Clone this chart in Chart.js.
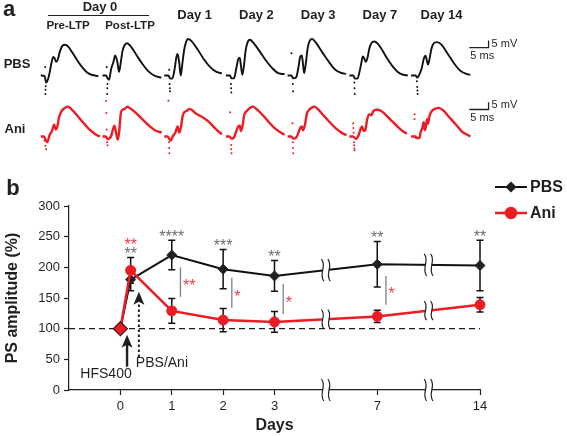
<!DOCTYPE html>
<html><head><meta charset="utf-8">
<script src="https://cdn.jsdelivr.net/npm/chart.js@4.4.1/dist/chart.umd.min.js"></script>
<style>
html,body{margin:0;padding:0;background:#fff;}
#wrap{position:relative;width:567px;height:436px;overflow:hidden;background:#fff;}
#ca{position:absolute;left:0;top:0;}
#cb{position:absolute;left:0;top:170px;}
</style></head><body>
<div id="wrap"><canvas id="ca" width="567" height="170"></canvas><canvas id="cb" width="567" height="266"></canvas></div>
<script>
// ---------- Panel b data ----------
const dayLabels = ['0', '1', '2', '3', '7', '14'];
const dayAxisPos = [0, 1, 2, 3, 5, 7];          // broken (compressed) day axis
const sampleDays = [0, 0.2, 1, 2, 3, 7, 14];
const pbsMean = [100, 180, 220, 197, 186, 205, 203];
const pbsSem  = [0, 18, 24, 32, 25, 37, 41];
const aniMean = [100, 195, 129, 114, 111, 120, 139];
const aniSem  = [0, 21, 20, 19, 17, 10, 12];
const pbsStars = ['', '**', '****', '***', '**', '**', '**'];
const aniStars = ['', '**', '', '', '', '', ''];
const compDays = [1, 2, 3, 7];
const compStars = ['**', '*', '*', '*'];
const compTop = [200, 183, 173, 186];
const compBottom = [152, 134, 124, 139];
const breakAxisPos = [4, 6];
const hfsArrow = [0.13, 38, 90];     // day, from %, to %
const drugArrow = [0.36, 54, 160];

// ---------- Panel a traces (ms, mV relative to trace start / baseline) ----------
const pbsPre = [[0,0],[1.0,-0.5],[1.4,-5],[1.9,-2.5],[2.3,2],[2.8,9],[3.25,13],[3.6,12],[4.0,9.5],[4.4,11],[5.0,17],[5.7,21],[6.3,21.5],[7.2,20],[8.2,16],[9.4,11],[10.7,6],[11.9,2.5],[13.2,0.5],[15.0,-0.5]];
const pbsPreDots = [[1.15,6],[1.2,-13],[1.25,-10],[1.3,-7.5]];
const pbsPost = [[0,0],[0.9,0],[1.35,-2],[1.7,-3],[2.25,4.5],[2.9,10],[3.3,14],[3.9,9],[4.3,2.5],[4.75,9],[5.2,17],[5.7,21],[6.4,22.5],[7.3,20.5],[8.8,14.5],[10.4,8],[12.1,2.5],[13.8,-0.5],[15.3,-1.5]];
const pbsPostDots = [[1.1,6],[1.2,-13],[1.25,-9],[1.3,-6]];
const pbsD1 = [[0,0],[1.1,0],[1.5,-2],[2.1,-2.2],[2.7,4.4],[3.2,13.3],[3.5,15],[3.9,9],[4.3,0],[4.75,9],[5.2,18],[5.7,23.5],[6.25,25.5],[7.1,24],[8.75,18],[10.4,11],[12.1,5.5],[13.6,2.5],[15,1.5]];
const pbsD1Dots = [[1.3,4],[1.4,-6],[1.45,-9],[1.5,-11]];
const pbsD2 = [[0,0],[1.1,0],[1.4,-2],[2.1,-2],[2.7,5],[3.2,11.5],[3.6,12.5],[3.9,7],[4.25,0.5],[4.7,7],[5.1,17],[5.6,23],[6.25,25],[7.1,23],[8.75,17],[10.4,10.5],[12.1,5],[13.75,1.5],[15.25,1]];
const pbsD2Dots = [[1.3,-6],[1.35,-9],[1.4,-12]];
const pbsD3 = [[0,0],[1.0,0],[1.4,-2],[2.25,-1.1],[2.8,5.6],[3.3,13.3],[3.7,14],[4.0,7.8],[4.3,1.6],[4.75,8.9],[5.2,18.9],[5.75,24.4],[6.4,25.5],[7.25,23.3],[8.9,16.7],[10.6,10],[12.25,4.4],[13.9,1.8],[15.2,1.1]];
const pbsD3Dots = [[1.0,15.5],[1.35,-6],[1.4,-11]];
const pbsD7 = [[0,0],[1.0,0],[1.4,-2],[2.1,-2.2],[2.7,3.3],[3.2,10],[3.5,13.3],[3.9,11.8],[4.3,9.5],[4.75,12.7],[5.2,18.9],[5.8,22.9],[6.5,23.8],[7.3,22.5],[8.5,18],[9.8,12],[11.2,6.5],[12.6,2.5],[14,0.5],[15.2,0]];
const pbsD7Dots = [[1.3,-5],[1.35,-9],[1.4,-13]];
const pbsD14 = [[0,0],[1.2,0],[1.6,-1.5],[2.1,0.4],[2.75,4.9],[3.3,11.6],[3.75,13.8],[4.2,9.3],[4.4,7.6],[4.8,11.6],[5.25,18.2],[5.8,22.2],[6.7,23.3],[7.9,21.6],[9.6,14.9],[11.25,8.2],[12.9,3.1],[14.6,0.9],[15.4,0.4]];
const pbsD14Dots = [[1.5,-4],[1.6,-8],[1.65,-10.5],[1.7,-13]];

const aniPre = [[0,0],[0.8,0],[1.2,-2],[1.7,-4],[2.3,1],[2.9,3.8],[3.5,8.2],[3.9,4.9],[4.3,7],[4.8,13.8],[5.4,17.8],[6.25,20],[7.1,20.9],[7.9,19.3],[9.2,15.6],[10.8,10.4],[12.5,5.3],[14.2,1.6],[15.4,0]];
const aniPreDots = [[1.0,-3],[1.2,-6.5],[1.4,-9]];
const aniPost = [[0,0],[0.8,0],[1.4,-1.8],[2.25,0.4],[3.1,7.6],[3.6,1.6],[4.0,-2.2],[4.4,4.9],[4.75,16],[5.25,18.7],[5.8,19.3],[6.4,20.9],[7.1,20],[8.75,16.4],[10.4,12],[12.1,7.6],[13.75,4.2],[15.4,2.7]];
const aniPostDots = [[0.9,24.9],[1.0,16.4],[1.1,4.9],[1.2,-4],[1.3,-6.2]];
const aniD1 = [[0,0],[0.9,0],[1.7,-2.9],[2.3,0.4],[2.9,2.7],[3.5,7.1],[3.9,2.7],[4.4,7.1],[4.75,13.8],[5.25,17.1],[5.8,17.8],[6.5,19.3],[7.1,18.7],[8.3,16],[10,13.5],[11.7,10],[13.3,5.5],[15,1.5]];
const aniD1Dots = [[1.1,25],[1.25,-4],[1.3,-8],[1.35,-11.8]];
const aniD2 = [[0,0],[0.9,0],[1.5,-1.5],[2.1,-0.7],[2.7,3.8],[3.2,7.1],[3.6,7.6],[3.9,3.8],[4.3,7.1],[4.75,14.9],[5.4,17.8],[6.25,20],[7.1,20.9],[7.9,19.3],[9.6,14.9],[11.25,9.8],[12.9,5.3],[14.6,2.2],[15.25,1.3]];
const aniD2Dots = [[1.1,17],[1.35,-6],[1.4,-9],[1.45,-11.8]];
const aniD3 = [[0,0],[0.9,0],[1.5,-1.5],[2.25,-0.7],[2.8,2.7],[3.3,6],[3.7,7.1],[4.0,4.4],[4.5,8.2],[5.0,16],[5.6,18.7],[6.4,20.4],[7.0,20.9],[7.8,19.3],[9.3,14.9],[11,9.8],[12.7,5.3],[14.3,2.2],[15.3,0.9]];
const aniD3Dots = [[1.25,9.3],[1.35,-4],[1.4,-8],[1.45,-11.8]];
const aniD7 = [[0,0],[0.9,0],[1.8,-1.8],[2.3,0.4],[2.9,4.9],[3.3,7.1],[3.75,3.8],[4.2,4.9],[4.6,11.6],[5.2,15.6],[5.7,14.9],[6.25,17.8],[7.1,18.7],[8.3,17.8],[9.5,15],[11,11],[12.5,7],[14,3.5],[15,2]];
const aniD7Dots = [[1.0,9.3],[1.05,6],[1.1,2.7],[1.2,-4],[1.25,-6.2],[1.3,-8.4],[1.35,-9.6]];
const aniD14 = [[0,0],[1.2,0],[1.3,-1],[2.2,-1],[2.5,3.3],[2.9,5.5],[3.3,10],[3.6,4.4],[3.9,7.8],[4.2,12.2],[4.4,8.9],[4.8,14.4],[5.4,17.8],[6.25,19.3],[7.25,20],[8.3,18.4],[10,13.3],[11.7,8.2],[13.3,3.3],[15,0.7],[15.4,0]];
const aniD14Dots = [[0.9,15.6],[0.9,12.2]];

const traceHeads = ['Day 1', 'Day 2', 'Day 3', 'Day 7', 'Day 14'];
const scaleBarMs = 5, scaleBarMv = 5;

// ---------- styling / layout ----------
const FONT = "'Liberation Sans', Arial, Helvetica, sans-serif";
const INK = '#231f20';
const RED = '#ec1c24';
const STAR_RED = '#ef3b42';
const STAR_GRAY = '#6d6e71';
Chart.defaults.font.family = FONT;
Chart.defaults.color = INK;

// ===== Panel a chart =====
const PX_PER_MS = 3.9;
const COL0 = 37.3 / PX_PER_MS, COLSTEP = 62.6 / PX_PER_MS;   // ms
const BASE_PBS = -50, BASE_ANI = -92.7;   // mV offsets of the two rows
const pbsT = [pbsPre, pbsPost, pbsD1, pbsD2, pbsD3, pbsD7, pbsD14];
const pbsD = [pbsPreDots, pbsPostDots, pbsD1Dots, pbsD2Dots, pbsD3Dots, pbsD7Dots, pbsD14Dots];
const aniT = [aniPre, aniPost, aniD1, aniD2, aniD3, aniD7, aniD14];
const aniD = [aniPreDots, aniPostDots, aniD1Dots, aniD2Dots, aniD3Dots, aniD7Dots, aniD14Dots];
function place(tr, c, base) { return tr.map(([t, v]) => ({x: COL0 + COLSTEP * c + t, y: base + v})); }
const traceSets = [];
[[pbsT, pbsD, BASE_PBS, '#111111', 1.9], [aniT, aniD, BASE_ANI, RED, 2.4]].forEach(([T, D, base, col, w]) => {
  T.forEach((tr, c) => {
    traceSets.push({data: place(tr, c, base), borderColor: col, borderWidth: w, pointRadius: 0,
      cubicInterpolationMode: 'monotone', showLine: true, fill: false});
    traceSets.push({data: place(D[c], c, base), showLine: false, pointRadius: 1.0, pointBorderWidth: 0,
      pointBackgroundColor: col, borderColor: col});
  });
});

const panelA = {
  id: 'panelA',
  afterDraw(chart) {
    const {ctx, scales: {x, y}} = chart;
    ctx.save();
    ctx.fillStyle = INK; ctx.strokeStyle = INK;
    ctx.textBaseline = 'middle'; ctx.textAlign = 'center';
    ctx.font = `bold 22px ${FONT}`; ctx.fillText('a', 9, 10);
    ctx.font = `bold 13px ${FONT}`;
    ctx.fillText('Day 0', 100, 7);
    ctx.lineWidth = 1; ctx.beginPath(); ctx.moveTo(48, 15.5); ctx.lineTo(149, 15.5); ctx.stroke();
    traceHeads.forEach((h, i) => {
      const cx = x.getPixelForValue(COL0 + COLSTEP * (i + 2)) + 30.5;
      ctx.fillText(h, cx, 15);
    });
    ctx.font = `bold 11.5px ${FONT}`;
    ctx.fillText('Pre-LTP', 68, 26);
    ctx.fillText('Post-LTP', 130, 26);
    ctx.font = `bold 13px ${FONT}`;
    ctx.fillText('PBS', 17, 64);
    ctx.fillText('Ani', 15, 129);
    // scale bars
    const sx = 472 / PX_PER_MS;
    [-30.5, -73.8].forEach(yv => {
      const x0 = x.getPixelForValue(sx), x1 = x.getPixelForValue(sx + scaleBarMs);
      const yb = y.getPixelForValue(yv), yt = y.getPixelForValue(yv + scaleBarMv);
      ctx.lineWidth = 1.3; ctx.beginPath(); ctx.moveTo(x0, yb); ctx.lineTo(x1, yb); ctx.lineTo(x1, yt); ctx.stroke();
      ctx.font = `11px ${FONT}`; ctx.textAlign = 'left';
      ctx.fillText('5 mV', x1 + 3, (yb + yt) / 2 - 0.5);
      ctx.fillText('5 ms', x0 + 1, yb + 8.5);
      ctx.textAlign = 'center';
    });
    ctx.restore();
  }
};

new Chart(document.getElementById('ca'), {
  type: 'line',
  data: {datasets: traceSets},
  options: {
    responsive: false, animation: false, devicePixelRatio: 1, events: [],
    layout: {padding: 0},
    plugins: {legend: {display: false}, tooltip: {enabled: false}},
    scales: {
      x: {type: 'linear', min: 0, max: 567 / PX_PER_MS, display: false},
      y: {type: 'linear', min: -170 / 1.5, max: 0, display: false}
    }
  },
  plugins: [panelA]
});

// ===== Panel b chart =====
const dayVals = dayLabels.map(Number);
function posOfDay(d) {
  for (let i = 0; i < dayVals.length - 1; i++) {
    if (d >= dayVals[i] && d <= dayVals[i + 1]) {
      return dayAxisPos[i] + (d - dayVals[i]) / (dayVals[i + 1] - dayVals[i]) * (dayAxisPos[i + 1] - dayAxisPos[i]);
    }
  }
  return dayAxisPos[dayAxisPos.length - 1];
}
const xs = sampleDays.map(posOfDay);

function interpAt(pos, means) {
  for (let i = 0; i < xs.length - 1; i++) {
    if (pos >= xs[i] && pos <= xs[i + 1]) return means[i] + (pos - xs[i]) / (xs[i + 1] - xs[i]) * (means[i + 1] - means[i]);
  }
  return means[means.length - 1];
}
function drawBreak(ctx, cx, cy, h) {
  ctx.save();
  ctx.fillStyle = '#fff';
  ctx.fillRect(cx - 3, cy - 3.5, 6, 7);
  ctx.strokeStyle = INK; ctx.lineWidth = 1.2;
  [-3.2, 3.2].forEach(dx => {
    ctx.beginPath();
    ctx.moveTo(cx + dx - 1.2, cy - h / 2);
    ctx.bezierCurveTo(cx + dx + 4.5, cy - h / 6, cx + dx - 4.5, cy + h / 6, cx + dx + 1.2, cy + h / 2);
    ctx.stroke();
  });
  ctx.restore();
}
function starText(ctx, txt, cx, cy, color, align) {
  ctx.fillStyle = color; ctx.textAlign = align || 'center'; ctx.textBaseline = 'alphabetic';
  ctx.font = `16px ${FONT}`;
  ctx.fillText(txt, cx, cy + 9);
}

const panelB = {
  id: 'panelB',
  beforeDatasetsDraw(chart) {
    const {ctx, chartArea: a, scales: {x, y}} = chart;
    ctx.save();
    ctx.strokeStyle = INK; ctx.lineWidth = 1.2; ctx.setLineDash([6, 4]);
    const y100 = y.getPixelForValue(100);
    ctx.beginPath(); ctx.moveTo(a.left, y100); ctx.lineTo(a.right, y100); ctx.stroke();
    ctx.setLineDash([]);
    ctx.lineWidth = 1.5; ctx.strokeStyle = '#111';
    [[pbsMean, pbsSem], [aniMean, aniSem]].forEach(([m, e]) => {
      m.forEach((v, i) => {
        if (!e[i]) return;
        const px = x.getPixelForValue(xs[i]);
        const t = y.getPixelForValue(v + e[i]), b = y.getPixelForValue(v - e[i]);
        ctx.beginPath();
        ctx.moveTo(px, t); ctx.lineTo(px, b);
        ctx.moveTo(px - 3.5, t); ctx.lineTo(px + 3.5, t);
        ctx.moveTo(px - 3.5, b); ctx.lineTo(px + 3.5, b);
        ctx.stroke();
      });
    });
    ctx.restore();
  },
  afterDatasetsDraw(chart) {
    const {ctx, chartArea: a, scales: {x, y}} = chart;
    ctx.save();
    // axis breaks
    breakAxisPos.forEach(p => {
      const px = x.getPixelForValue(p);
      drawBreak(ctx, px, y.getPixelForValue(interpAt(p, pbsMean)), 22);
      drawBreak(ctx, px, y.getPixelForValue(interpAt(p, aniMean)), 19);
      drawBreak(ctx, px, a.bottom, 22);
    });
    // significance stars
    pbsStars.forEach((s, i) => {
      if (!s) return;
      const top = Math.max(pbsMean[i] + pbsSem[i], aniMean[i] + aniSem[i]);
      const cy = y.getPixelForValue(top) - 7.5;
      const px = x.getPixelForValue(xs[i]);
      starText(ctx, s, px, cy, STAR_GRAY);
      if (aniStars[i]) starText(ctx, aniStars[i], px, cy - 9, STAR_RED);
    });
    compDays.forEach((d, j) => {
      const px = x.getPixelForValue(posOfDay(d)) + 8.7;
      const t = y.getPixelForValue(compTop[j]), b = y.getPixelForValue(compBottom[j]);
      ctx.strokeStyle = '#7f7f7f'; ctx.lineWidth = 1.3;
      ctx.beginPath(); ctx.moveTo(px, t); ctx.lineTo(px, b); ctx.stroke();
      starText(ctx, compStars[j], px + 2.5, (t + b) / 2, STAR_RED, 'left');
    });
    // arrows
    ctx.fillStyle = INK; ctx.strokeStyle = INK;
    function head(px, ty) {
      ctx.beginPath();
      ctx.moveTo(px, ty); ctx.lineTo(px - 5.5, ty + 13); ctx.lineTo(px, ty + 10); ctx.lineTo(px + 5.5, ty + 13);
      ctx.closePath(); ctx.fill();
    }
    let px = x.getPixelForValue(posOfDay(hfsArrow[0]));
    let y0 = y.getPixelForValue(hfsArrow[1]), y1 = y.getPixelForValue(hfsArrow[2]);
    ctx.lineWidth = 2.4; ctx.beginPath(); ctx.moveTo(px, y0); ctx.lineTo(px, y1 + 8); ctx.stroke();
    head(px, y1);
    px = x.getPixelForValue(posOfDay(drugArrow[0]));
    y0 = y.getPixelForValue(drugArrow[1]); y1 = y.getPixelForValue(drugArrow[2]);
    ctx.lineWidth = 2; ctx.setLineDash([2.5, 2.5]);
    ctx.beginPath(); ctx.moveTo(px, y0); ctx.lineTo(px, y1 + 9); ctx.stroke();
    ctx.setLineDash([]);
    head(px, y1);
    ctx.font = `14px ${FONT}`; ctx.textBaseline = 'middle';
    ctx.textAlign = 'center'; ctx.fillText('HFS400', x.getPixelForValue(posOfDay(hfsArrow[0])) - 21, y.getPixelForValue(hfsArrow[1]) + 7.5);
    ctx.textAlign = 'left'; ctx.fillText('PBS/Ani', x.getPixelForValue(posOfDay(drugArrow[0])) - 3, y.getPixelForValue(drugArrow[1]) + 6);
    // panel label
    ctx.font = `bold 22px ${FONT}`; ctx.textAlign = 'center'; ctx.fillText('b', 13, 19);
    // legend
    const lx0 = 495, lx1 = 527, lm = 511;
    [['PBS', '#111', 17, 'rectRot', 4.2, 2], ['Ani', RED, 43, 'circle', 5, 2.5]].forEach(([lab, col, ly, st, r, w]) => {
      ctx.strokeStyle = col; ctx.lineWidth = w;
      ctx.beginPath(); ctx.moveTo(lx0, ly); ctx.lineTo(lx1, ly); ctx.stroke();
      ctx.fillStyle = st === 'circle' ? RED : INK; ctx.strokeStyle = ctx.fillStyle;
      Chart.helpers.drawPoint(ctx, {pointStyle: st, radius: r, borderWidth: 1}, lm, ly);
      ctx.fillStyle = INK; ctx.font = `bold 16px ${FONT}`; ctx.textAlign = 'left'; ctx.textBaseline = 'middle';
      ctx.fillText(lab, 530, ly + 1);
    });
    ctx.restore();
  }
};

new Chart(document.getElementById('cb'), {
  type: 'line',
  data: {
    datasets: [
      {label: 'Ani', data: xs.map((v, i) => ({x: v, y: aniMean[i]})), borderColor: RED, borderWidth: 2.5,
       pointStyle: c => c.dataIndex === 0 ? 'rectRot' : 'circle',
       pointRadius: c => c.dataIndex === 0 ? 7 : 5,
       pointBackgroundColor: RED,
       pointBorderColor: c => c.dataIndex === 0 ? '#4a1b1b' : RED,
       pointBorderWidth: c => c.dataIndex === 0 ? 1.3 : 1,
       order: 0, clip: false, tension: 0},
      {label: 'PBS', data: xs.map((v, i) => ({x: v, y: pbsMean[i]})), borderColor: '#111', borderWidth: 2,
       pointStyle: 'rectRot', pointRadius: 5, pointBackgroundColor: INK, pointBorderColor: INK, pointBorderWidth: 1,
       order: 1, clip: false, tension: 0}
    ]
  },
  options: {
    responsive: false, animation: false, devicePixelRatio: 1, events: [],
    layout: {padding: {left: 0, right: 87, top: 36, bottom: 0}},
    plugins: {legend: {display: false}, tooltip: {enabled: false}},
    scales: {
      x: {
        type: 'linear', min: -1, max: 7,
        afterBuildTicks: s => { s.ticks = dayAxisPos.map(v => ({value: v})); },
        afterFit: s => { s.height = 46; },
        ticks: {autoSkip: false, maxRotation: 0, padding: 4, color: INK, font: {size: 13},
                callback: (v, i) => dayLabels[i]},
        grid: {drawOnChartArea: false, drawTicks: true, tickLength: 5, color: INK, tickWidth: 1.2},
        border: {display: true, color: INK, width: 1.2},
        title: {display: true, text: 'Days', color: INK, font: {size: 16, weight: 'bold'}, padding: {top: 0, bottom: 1}}
      },
      y: {
        type: 'linear', min: 0, max: 300,
        afterFit: s => { s.width = 69; },
        ticks: {stepSize: 50, padding: 4, color: INK, font: {size: 13}},
        grid: {drawOnChartArea: false, drawTicks: true, tickLength: 5, color: INK, tickWidth: 1.2},
        border: {display: true, color: INK, width: 1.2},
        title: {display: true, text: 'PS amplitude (%)', color: INK, font: {size: 16, weight: 'bold'}, padding: {top: 3, bottom: 0}}
      }
    }
  },
  plugins: [panelB]
});
</script>
</body></html>
